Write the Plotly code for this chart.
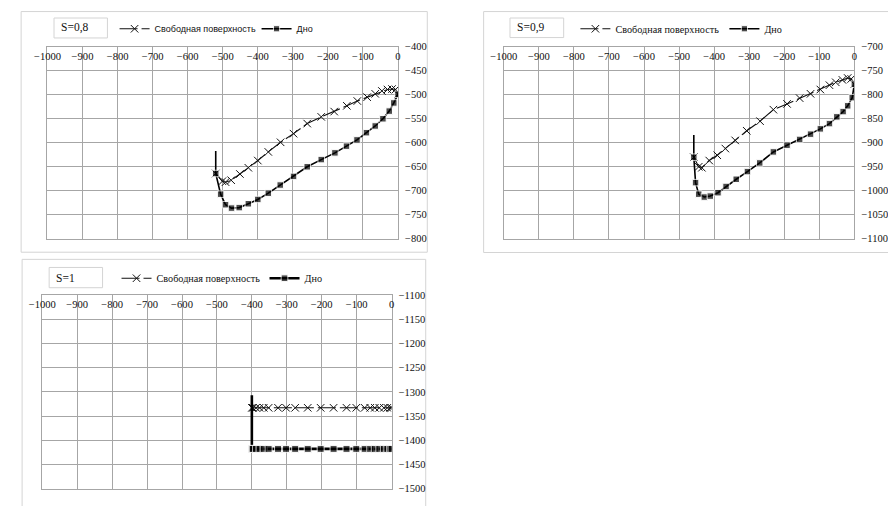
import plotly.graph_objects as go

W, H = 888, 506

# ---- S = 0,8 ----
s08_surface_x = [-520, -501, -492, -476, -451, -427, -400, -370, -335, -298, -259,
                 -219, -182, -146, -116, -88, -65, -46, -30, -17, -7, 0]
s08_surface_y = [-664, -680, -682, -678, -665, -652, -637, -619, -599, -581, -560,
                 -546, -535, -523, -513, -505, -498, -492, -489, -488, -489, -499]
s08_bottom_x = [-520, -520, -506, -492, -475, -453, -427, -400, -370, -336, -298,
                -259, -219, -180, -147, -117, -90, -65, -43, -25, -12, 0]
s08_bottom_y = [-617, -664, -707, -729, -736, -735, -727, -718, -705, -688, -670,
                -650, -635, -621, -607, -594, -579, -565, -550, -534, -517, -499]

# ---- S = 0,9 ----
s09_surface_x = [-458, -444, -435, -414, -391, -368, -340, -307, -269, -231,
                 -192, -156, -125, -97, -71, -53, -34, -19, -9, 0]
s09_surface_y = [-930, -950, -952, -937, -926, -912, -895, -875, -855, -831,
                 -819, -807, -798, -789, -780, -774, -769, -765, -767, -778]
s09_bottom_x = [-458, -458, -453, -444, -428, -411, -389, -366, -337, -305, -270,
                -231, -192, -156, -125, -97, -71, -50, -32, -19, -6, 0]
s09_bottom_y = [-884, -930, -983, -1007, -1013, -1011, -1004, -991, -976, -960, -942,
                -919, -905, -893, -882, -871, -860, -846, -835, -823, -806, -778]

# ---- S = 1 ----
s10_surface_x = [-400, -397, -388, -378, -366, -352, -325, -302, -276, -240, -203,
                 -166, -129, -101, -77, -61, -48, -35, -22, -12, -4, 0]
s10_surface_y = [-1333, -1333, -1333, -1333, -1333, -1333, -1333, -1333, -1333, -1333, -1333,
                 -1333, -1333, -1333, -1333, -1333, -1333, -1333, -1333, -1333, -1333, -1333]
s10_bottom_x = [-400, -400, -397, -388, -378, -366, -352, -325, -302, -276, -240, -203,
                -166, -129, -101, -77, -61, -48, -35, -22, -12, -4, 0]
s10_bottom_y = [-1307, -1418, -1418, -1418, -1418, -1418, -1418, -1418, -1418, -1418, -1418, -1418,
                -1418, -1418, -1418, -1418, -1418, -1418, -1418, -1418, -1418, -1418, -1418]

x_range = [-1000, 0]
y_ranges = [[-800, -400], [-1100, -700], [-1500, -1100]]
labels = ["S=0,8", "S=0,9", "S=1"]
surface_name = "Свободная поверхность"
bottom_name = "Дно"

SERIF = "Liberation Serif, Times New Roman, serif"
SANS = "Liberation Sans, Arial, sans-serif"
GRID = "#a6a6a6"
FRAME = "#d4d4d4"
INK = "#111111"

# panel geometry in pixels
panels = [
    dict(plot=(34.3, 393.3, 42.7, 239.0), frame=(7.3, 423.3, 6.7, 252.7),
         box=(41, 95.7, 13.3, 33.7), legend=(103, 24.3), lfont=SANS, lsize=9.0,
         ew=97, lw=1.6, ms=6.5),
    dict(plot=(501.7, 860.7, 42.7, 239.0), frame=(481, 900, 6.7, 253),
         box=(508, 563, 13.3, 33.3), legend=(575, 24.3), lfont=SERIF, lsize=10.2,
         ew=104, lw=1.6, ms=6.5),
    dict(plot=(29.0, 386.7, 296.6, 494.3), frame=(8.3, 421.7, 260, 520),
         box=(36, 90.7, 268.3, 289), legend=(105, 279.3), lfont=SERIF, lsize=10.2,
         ew=103, lw=2.6, ms=7),
]

series = [
    (s08_surface_x, s08_surface_y, s08_bottom_x, s08_bottom_y),
    (s09_surface_x, s09_surface_y, s09_bottom_x, s09_bottom_y),
    (s10_surface_x, s10_surface_y, s10_bottom_x, s10_bottom_y),
]

fig = go.Figure()
shapes, annotations = [], []
layout = dict(width=W, height=H, margin=dict(l=0, r=0, t=0, b=0),
              paper_bgcolor="white", plot_bgcolor="white", showlegend=True)

for i, (p, (sx, sy, bx, by)) in enumerate(zip(panels, series)):
    n = "" if i == 0 else str(i + 1)
    leg = "legend" if i == 0 else "legend" + n
    x0, x1, y0, y1 = p["plot"]

    layout["xaxis" + n] = dict(
        domain=[x0 / W, x1 / W], range=x_range, anchor="y" + n, side="top",
        tick0=0, dtick=100, ticks="", ticklabelposition="inside",
        ticklabeloverflow="allow", ticklabelstandoff=5,
        showgrid=True, gridcolor=GRID, gridwidth=1, zeroline=False,
        showline=True, linecolor=GRID, linewidth=1, mirror=True,
        tickfont=dict(family=SERIF, size=10.6, color=INK), fixedrange=True)
    layout["yaxis" + n] = dict(
        domain=[1 - y1 / H, 1 - y0 / H], range=y_ranges[i], anchor="x" + n, side="right",
        tick0=0, dtick=50, ticks="outside", ticklen=4, tickcolor="rgba(0,0,0,0)",
        showgrid=True, gridcolor=GRID, gridwidth=1,
        zeroline=False, showline=True, linecolor=GRID, linewidth=1, mirror=True,
        tickfont=dict(family=SERIF, size=10.5, color=INK), fixedrange=True)

    lx, ly = p["legend"]
    layout[leg] = dict(orientation="h", x=lx / W, y=1 - ly / H, xanchor="left",
                       yanchor="middle", bgcolor="rgba(0,0,0,0)", itemwidth=30,
                       entrywidth=p["ew"], entrywidthmode="pixels",
                       font=dict(family=p["lfont"], size=p["lsize"], color=INK),
                       traceorder="normal")

    fig.add_trace(go.Scatter(
        x=sx, y=sy, mode="lines+markers", name=surface_name,
        xaxis="x" + n, yaxis="y" + n, legend=leg,
        line=dict(color=INK, width=1.1, dash="18px,4px"),
        marker=dict(symbol="x-thin", size=7.5, color=INK, line=dict(width=1, color=INK))))

    # the first bottom point only starts the vertical wall segment, so it has no marker
    sizes = [0] + [p["ms"]] * (len(bx) - 1)
    fig.add_trace(go.Scatter(
        x=bx, y=by, mode="lines+markers", name=bottom_name,
        xaxis="x" + n, yaxis="y" + n, legend=leg,
        line=dict(color="#000000", width=p["lw"]),
        marker=dict(symbol="square", size=sizes, color="#000000")))

    fx0, fx1, fy0, fy1 = p["frame"]
    shapes.append(dict(type="rect", xref="paper", yref="paper", layer="below",
                       x0=fx0 / W, x1=fx1 / W, y0=1 - fy1 / H, y1=1 - fy0 / H,
                       line=dict(color=FRAME, width=1), fillcolor="white"))
    bx0, bx1, by0, by1 = p["box"]
    shapes.append(dict(type="rect", xref="paper", yref="paper",
                       x0=bx0 / W, x1=bx1 / W, y0=1 - by1 / H, y1=1 - by0 / H,
                       line=dict(color=FRAME, width=1), fillcolor="rgba(0,0,0,0)"))
    annotations.append(dict(text=labels[i], xref="paper", yref="paper", showarrow=False,
                            x=(bx0 + 5) / W, y=1 - (by0 + by1) / 2 / H,
                            xanchor="left", yanchor="middle",
                            font=dict(family=SERIF, size=11.5, color=INK)))

layout["shapes"] = shapes
layout["annotations"] = annotations
fig.update_layout(**layout)
fig.write_html("out.html")
